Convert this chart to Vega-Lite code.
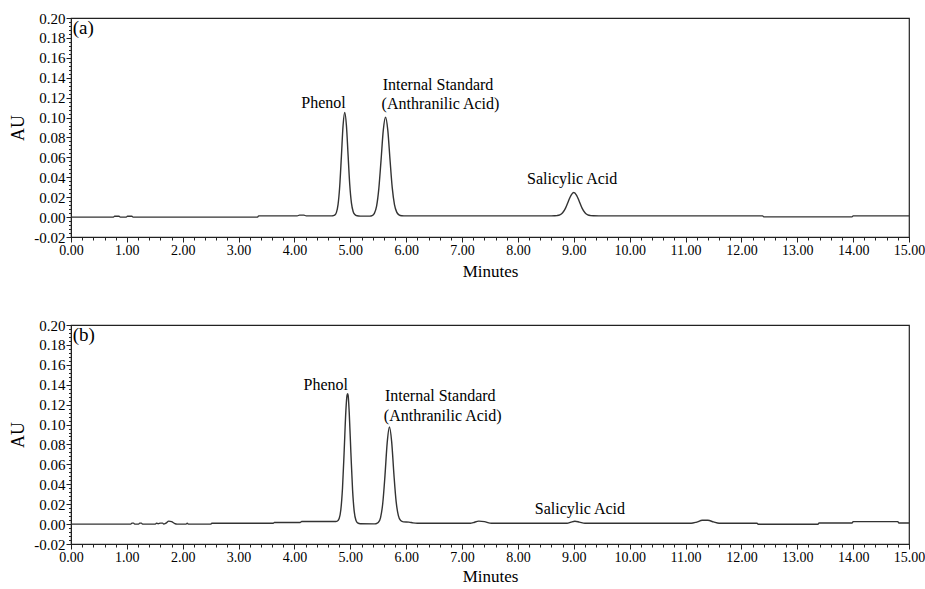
{
  "$schema": "https://vega.github.io/schema/vega-lite/v6.json",
  "padding": {"left": 9, "top": 10, "right": 5, "bottom": 0},
  "spacing": 37,
  "config": {
    "view": {"stroke": "#222", "strokeWidth": 1.2},
    "font": "Liberation Serif",
    "axis": {
      "grid": false,
      "domainColor": "#222",
      "tickColor": "#222",
      "labelColor": "#000",
      "titleColor": "#000",
      "labelFont": "Liberation Serif",
      "titleFont": "Liberation Serif",
      "titleFontWeight": "normal",
      "labelOverlap": false,
      "labelBound": false,
      "labelFlush": false
    }
  },
  "datasets": {
    "a_trace": [
      {"t": 0, "au": 0}, {"t": 0.76, "au": 0}, {"t": 0.78, "au": 0.0009}, {"t": 0.86, "au": 0.0009}, {"t": 0.88, "au": 0},
      {"t": 0.99, "au": 0}, {"t": 1.01, "au": 0.0009}, {"t": 1.09, "au": 0.0009}, {"t": 1.11, "au": 0},
      {"t": 3.34, "au": 0}, {"t": 3.36, "au": 0.0012}, {"t": 4.05, "au": 0.0012}, {"t": 4.09, "au": 0.002}, {"t": 4.17, "au": 0.002}, {"t": 4.21, "au": 0.0012},
      {"t": 4.66, "au": 0.0012}, {"t": 4.69, "au": 0.0014}, {"t": 4.72, "au": 0.002}, {"t": 4.75, "au": 0.0045}, {"t": 4.78, "au": 0.0125},
      {"t": 4.81, "au": 0.031}, {"t": 4.84, "au": 0.061}, {"t": 4.87, "au": 0.092}, {"t": 4.9, "au": 0.105}, {"t": 4.93, "au": 0.092},
      {"t": 4.96, "au": 0.062}, {"t": 4.99, "au": 0.0322}, {"t": 5.02, "au": 0.014}, {"t": 5.05, "au": 0.0056}, {"t": 5.08, "au": 0.0026},
      {"t": 5.12, "au": 0.0013}, {"t": 5.18, "au": 0.001}, {"t": 5.35, "au": 0.001}, {"t": 5.39, "au": 0.0015}, {"t": 5.43, "au": 0.0037},
      {"t": 5.47, "au": 0.011}, {"t": 5.51, "au": 0.0286}, {"t": 5.55, "au": 0.0572}, {"t": 5.59, "au": 0.0873}, {"t": 5.63, "au": 0.1003},
      {"t": 5.67, "au": 0.0876}, {"t": 5.71, "au": 0.0579}, {"t": 5.75, "au": 0.0296}, {"t": 5.79, "au": 0.0126}, {"t": 5.83, "au": 0.005},
      {"t": 5.87, "au": 0.0023}, {"t": 5.92, "au": 0.0014}, {"t": 6.0, "au": 0.0012}, {"t": 8.6, "au": 0.0012},
      {"t": 8.65, "au": 0.0013}, {"t": 8.7, "au": 0.0015}, {"t": 8.75, "au": 0.0022}, {"t": 8.8, "au": 0.0044}, {"t": 8.85, "au": 0.0088},
      {"t": 8.9, "au": 0.0155}, {"t": 8.95, "au": 0.0219}, {"t": 9.0, "au": 0.0247}, {"t": 9.05, "au": 0.0219}, {"t": 9.1, "au": 0.0155},
      {"t": 9.15, "au": 0.0088}, {"t": 9.2, "au": 0.0044}, {"t": 9.25, "au": 0.0022}, {"t": 9.3, "au": 0.0015}, {"t": 9.35, "au": 0.0013},
      {"t": 9.45, "au": 0.0012}, {"t": 12.38, "au": 0.0012}, {"t": 12.4, "au": 0.0002}, {"t": 13.98, "au": 0.0002}, {"t": 14.0, "au": 0.0012},
      {"t": 15.0, "au": 0.0012}
    ],
    "b_trace": [
      {"t": 0, "au": 0}, {"t": 1.07, "au": 0}, {"t": 1.09, "au": 0.001}, {"t": 1.12, "au": 0.001}, {"t": 1.14, "au": 0},
      {"t": 1.21, "au": 0}, {"t": 1.23, "au": 0.001}, {"t": 1.26, "au": 0.001}, {"t": 1.28, "au": 0},
      {"t": 1.51, "au": 0}, {"t": 1.53, "au": 0.001}, {"t": 1.56, "au": 0.0004}, {"t": 1.6, "au": 0.001}, {"t": 1.64, "au": 0.001}, {"t": 1.66, "au": 0},
      {"t": 1.7, "au": 0.001}, {"t": 1.75, "au": 0.003}, {"t": 1.8, "au": 0.0025}, {"t": 1.85, "au": 0.0008}, {"t": 1.9, "au": 0},
      {"t": 2.06, "au": 0}, {"t": 2.08, "au": 0.001}, {"t": 2.1, "au": 0}, {"t": 2.5, "au": 0}, {"t": 2.52, "au": 0.0008},
      {"t": 3.62, "au": 0.0008}, {"t": 3.64, "au": 0.0016}, {"t": 4.1, "au": 0.0016}, {"t": 4.13, "au": 0.0026}, {"t": 4.74, "au": 0.0026},
      {"t": 4.77, "au": 0.0031}, {"t": 4.8, "au": 0.0056}, {"t": 4.83, "au": 0.0144}, {"t": 4.86, "au": 0.0363}, {"t": 4.89, "au": 0.0736},
      {"t": 4.92, "au": 0.1137}, {"t": 4.94, "au": 0.129}, {"t": 4.95, "au": 0.131}, {"t": 4.96, "au": 0.1295}, {"t": 4.98, "au": 0.1122},
      {"t": 5.01, "au": 0.0716}, {"t": 5.04, "au": 0.0345}, {"t": 5.07, "au": 0.0125}, {"t": 5.1, "au": 0.0038}, {"t": 5.13, "au": 0.0012},
      {"t": 5.18, "au": 0.0003}, {"t": 5.42, "au": 0.0002}, {"t": 5.46, "au": 0.0004}, {"t": 5.5, "au": 0.0015}, {"t": 5.54, "au": 0.0063},
      {"t": 5.58, "au": 0.0207}, {"t": 5.62, "au": 0.0487}, {"t": 5.66, "au": 0.0818}, {"t": 5.7, "au": 0.0975}, {"t": 5.74, "au": 0.0826},
      {"t": 5.78, "au": 0.05}, {"t": 5.82, "au": 0.0225}, {"t": 5.86, "au": 0.0085}, {"t": 5.9, "au": 0.0035}, {"t": 5.95, "au": 0.0022},
      {"t": 6.05, "au": 0.002}, {"t": 6.12, "au": 0.0012}, {"t": 6.2, "au": 0.0008}, {"t": 7.15, "au": 0.0008}, {"t": 7.2, "au": 0.0015},
      {"t": 7.3, "au": 0.003}, {"t": 7.4, "au": 0.0025}, {"t": 7.5, "au": 0.001}, {"t": 7.55, "au": 0.0008}, {"t": 8.88, "au": 0.0008},
      {"t": 8.95, "au": 0.002}, {"t": 9.02, "au": 0.0028}, {"t": 9.1, "au": 0.002}, {"t": 9.2, "au": 0.0008}, {"t": 11.1, "au": 0.0008},
      {"t": 11.2, "au": 0.002}, {"t": 11.3, "au": 0.0038}, {"t": 11.4, "au": 0.0038}, {"t": 11.5, "au": 0.0022}, {"t": 11.6, "au": 0.0008},
      {"t": 12.28, "au": 0.0008}, {"t": 12.3, "au": -0.0002}, {"t": 13.37, "au": -0.0002}, {"t": 13.39, "au": 0.0011}, {"t": 13.98, "au": 0.0011},
      {"t": 14.0, "au": 0.0025}, {"t": 14.8, "au": 0.0025}, {"t": 14.82, "au": 0.0011}, {"t": 15.0, "au": 0.0011}
    ],
    "a_text_c": [
      {"t": 4.52, "au": 0.115, "label": "Phenol"},
      {"t": 8.97, "au": 0.038, "label": "Salicylic Acid"}
    ],
    "a_text_l": [
      {"t": 5.58, "au": 0.133, "label": "Internal Standard"},
      {"t": 5.56, "au": 0.114, "label": "(Anthranilic Acid)"}
    ],
    "a_tag": [{"t": 0.03, "au": 0.19, "label": "(a)"}],
    "b_text_c": [
      {"t": 4.56, "au": 0.14, "label": "Phenol"},
      {"t": 9.11, "au": 0.015, "label": "Salicylic Acid"}
    ],
    "b_text_l": [
      {"t": 5.62, "au": 0.129, "label": "Internal Standard"},
      {"t": 5.6, "au": 0.109, "label": "(Anthranilic Acid)"}
    ],
    "b_tag": [{"t": 0.03, "au": 0.19, "label": "(b)"}]
  },
  "vconcat": [
    {
      "width": 838,
      "height": 219,
      "encoding": {
        "x": {
          "field": "t", "type": "quantitative",
          "scale": {"domain": [0, 15], "nice": false, "zero": false},
          "axis": {
            "title": "Minutes", "titleFontSize": 17, "titlePadding": 6,
            "labelFontSize": 14, "labelPadding": 1,
            "values": [0,0.2,0.4,0.6,0.8,1,1.2,1.4,1.6,1.8,2,2.2,2.4,2.6,2.8,3,3.2,3.4,3.6,3.8,4,4.2,4.4,4.6,4.8,5,5.2,5.4,5.6,5.8,6,6.2,6.4,6.6,6.8,7,7.2,7.4,7.6,7.8,8,8.2,8.4,8.6,8.8,9,9.2,9.4,9.6,9.8,10,10.2,10.4,10.6,10.8,11,11.2,11.4,11.6,11.8,12,12.2,12.4,12.6,12.8,13,13.2,13.4,13.6,13.8,14,14.2,14.4,14.6,14.8,15],
            "labelExpr": "abs(datum.value - round(datum.value)) < 0.001 ? format(datum.value, '.2f') : ''",
            "tickSize": {"condition": {"test": "abs(datum.value - round(datum.value)) < 0.001", "value": 5}, "value": 3}
          }
        },
        "y": {
          "field": "au", "type": "quantitative",
          "scale": {"domain": [-0.02, 0.2], "nice": false, "zero": false},
          "axis": {
            "title": "AU", "titleFontSize": 18, "titlePadding": 6,
            "labelFontSize": 15, "labelPadding": 1,
            "values": [-0.02,-0.016,-0.012,-0.008,-0.004,0,0.004,0.008,0.012,0.016,0.02,0.024,0.028,0.032,0.036,0.04,0.044,0.048,0.052,0.056,0.06,0.064,0.068,0.072,0.076,0.08,0.084,0.088,0.092,0.096,0.1,0.104,0.108,0.112,0.116,0.12,0.124,0.128,0.132,0.136,0.14,0.144,0.148,0.152,0.156,0.16,0.164,0.168,0.172,0.176,0.18,0.184,0.188,0.192,0.196,0.2],
            "labelExpr": "abs(datum.value*50 - round(datum.value*50)) < 0.01 ? replace(format(datum.value, '.2f'), '−', '-') : ''",
            "tickSize": {"condition": {"test": "abs(datum.value*50 - round(datum.value*50)) < 0.01", "value": 5}, "value": 2.5}
          }
        }
      },
      "layer": [
        {"data": {"name": "a_trace"}, "mark": {"type": "line", "color": "#333", "strokeWidth": 1.4, "interpolate": "monotone"}},
        {"data": {"name": "a_text_c"}, "mark": {"type": "text", "fontSize": 16, "baseline": "middle", "align": "center", "color": "#000"}, "encoding": {"text": {"field": "label"}}},
        {"data": {"name": "a_text_l"}, "mark": {"type": "text", "fontSize": 16, "baseline": "middle", "align": "left", "color": "#000"}, "encoding": {"text": {"field": "label"}}},
        {"data": {"name": "a_tag"}, "mark": {"type": "text", "fontSize": 19, "baseline": "middle", "align": "left", "color": "#000"}, "encoding": {"text": {"field": "label"}}}
      ]
    },
    {
      "width": 838,
      "height": 219,
      "encoding": {
        "x": {
          "field": "t", "type": "quantitative",
          "scale": {"domain": [0, 15], "nice": false, "zero": false},
          "axis": {
            "title": "Minutes", "titleFontSize": 17, "titlePadding": 4,
            "labelFontSize": 14, "labelPadding": 1,
            "values": [0,0.2,0.4,0.6,0.8,1,1.2,1.4,1.6,1.8,2,2.2,2.4,2.6,2.8,3,3.2,3.4,3.6,3.8,4,4.2,4.4,4.6,4.8,5,5.2,5.4,5.6,5.8,6,6.2,6.4,6.6,6.8,7,7.2,7.4,7.6,7.8,8,8.2,8.4,8.6,8.8,9,9.2,9.4,9.6,9.8,10,10.2,10.4,10.6,10.8,11,11.2,11.4,11.6,11.8,12,12.2,12.4,12.6,12.8,13,13.2,13.4,13.6,13.8,14,14.2,14.4,14.6,14.8,15],
            "labelExpr": "abs(datum.value - round(datum.value)) < 0.001 ? format(datum.value, '.2f') : ''",
            "tickSize": {"condition": {"test": "abs(datum.value - round(datum.value)) < 0.001", "value": 5}, "value": 3}
          }
        },
        "y": {
          "field": "au", "type": "quantitative",
          "scale": {"domain": [-0.02, 0.2], "nice": false, "zero": false},
          "axis": {
            "title": "AU", "titleFontSize": 18, "titlePadding": 6,
            "labelFontSize": 15, "labelPadding": 1,
            "values": [-0.02,-0.016,-0.012,-0.008,-0.004,0,0.004,0.008,0.012,0.016,0.02,0.024,0.028,0.032,0.036,0.04,0.044,0.048,0.052,0.056,0.06,0.064,0.068,0.072,0.076,0.08,0.084,0.088,0.092,0.096,0.1,0.104,0.108,0.112,0.116,0.12,0.124,0.128,0.132,0.136,0.14,0.144,0.148,0.152,0.156,0.16,0.164,0.168,0.172,0.176,0.18,0.184,0.188,0.192,0.196,0.2],
            "labelExpr": "abs(datum.value*50 - round(datum.value*50)) < 0.01 ? replace(format(datum.value, '.2f'), '−', '-') : ''",
            "tickSize": {"condition": {"test": "abs(datum.value*50 - round(datum.value*50)) < 0.01", "value": 5}, "value": 2.5}
          }
        }
      },
      "layer": [
        {"data": {"name": "b_trace"}, "mark": {"type": "line", "color": "#333", "strokeWidth": 1.4, "interpolate": "monotone"}},
        {"data": {"name": "b_text_c"}, "mark": {"type": "text", "fontSize": 16, "baseline": "middle", "align": "center", "color": "#000"}, "encoding": {"text": {"field": "label"}}},
        {"data": {"name": "b_text_l"}, "mark": {"type": "text", "fontSize": 16, "baseline": "middle", "align": "left", "color": "#000"}, "encoding": {"text": {"field": "label"}}},
        {"data": {"name": "b_tag"}, "mark": {"type": "text", "fontSize": 19, "baseline": "middle", "align": "left", "color": "#000"}, "encoding": {"text": {"field": "label"}}}
      ]
    }
  ]
}
